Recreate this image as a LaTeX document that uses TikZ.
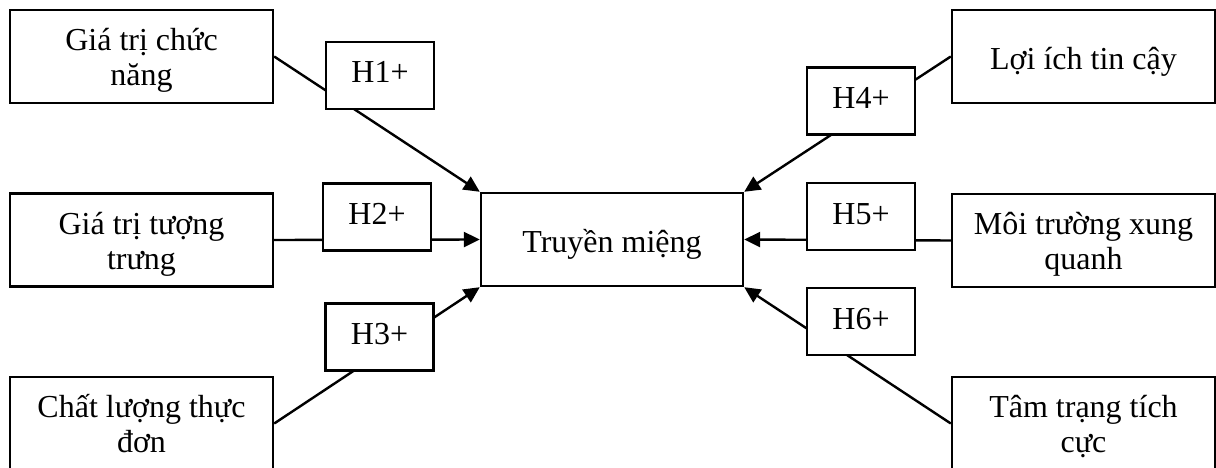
\documentclass[tikz,border=0pt]{standalone}
\usepackage{fontspec}
\setmainfont{Liberation Serif}
\usetikzlibrary{arrows.meta,backgrounds}
\begin{document}
\begin{tikzpicture}[x=1pt,y=-1pt,
  every node/.style={font=\fontsize{32}{35}\selectfont},
  factor/.style={draw, line width=2.4pt, fill=white, minimum width=263pt,
    minimum height=93pt, inner sep=0pt, align=center,
    text height=75.5pt, text depth=17.5pt},
  single/.style={factor, text height=60pt, text depth=33pt},
  hyp/.style={draw, line width=2.4pt, fill=white, minimum width=108pt,
    minimum height=67pt, inner sep=0pt, text height=41pt, text depth=26pt},
  link/.style={line width=2.4pt, -{Triangle[length=16pt,width=15pt]}},
]
\useasboundingbox (0,0) rectangle (1216,468);

% outcome
\node[factor, minimum width=262pt, text height=59pt, text depth=34pt]
  (c) at (612,239.5) {Truyền miệng};

% antecedents, left
\node[factor] (b1) at (141.5,56.5) {Giá trị chức\\năng};
\node[factor] (b2) at (141.5,240) {Giá trị tượng\\trưng};
\node[factor] (b3) at (141.5,423.5) {Chất lượng thực\\đơn};

% antecedents, right
\node[single] (b4) at (1083.5,56.5) {Lợi ích tin cậy};
\node[factor] (b5) at (1083.5,240.5) {Môi trường xung\\quanh};
\node[factor] (b6) at (1083.5,423.5) {Tâm trạng tích\\cực};

% hypothesis labels
\node[hyp] (h1) at (380,75.5) {H1+};
\node[hyp] (h2) at (377,217) {H2+};
\node[hyp] (h3) at (379.5,337) {H3+};
\node[hyp] (h4) at (861,101) {H4+};
\node[hyp] (h5) at (861,216.5) {H5+};
\node[hyp] (h6) at (861,321.5) {H6+};

% paths run behind the white label boxes
\begin{scope}[on background layer]
  \draw[link] (b1.east) -- (c.north west);
  \draw[link] (b2.east) -- (c.west);
  \draw[link] (b3.east) -- (c.south west);
  \draw[link] (b4.west) -- (c.north east);
  \draw[link] (b5.west) -- (c.east);
  \draw[link] (b6.west) -- (c.south east);
\end{scope}
\end{tikzpicture}
\end{document}
